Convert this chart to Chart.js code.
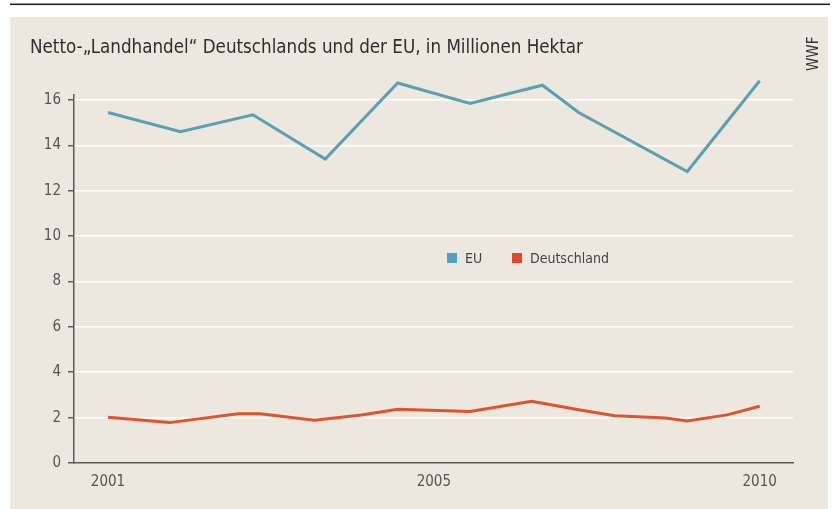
<!DOCTYPE html>
<html lang="de">
<head>
<meta charset="UTF-8">
<title>Netto-„Landhandel" Deutschlands und der EU</title>
<script src="https://cdn.jsdelivr.net/npm/chart.js"></script>
<style>
  html, body { margin:0; padding:0; background:#fff; }
  #wrap { position:relative; width:835px; height:509px; }
</style>
</head>
<body>
<div id="wrap"><canvas id="chart" width="835" height="509"></canvas></div>
<script>
/* ==== Daten ==== */
const titleText = 'Netto-„Landhandel“ Deutschlands und der EU, in Millionen Hektar';
const sourceText = 'WWF';

const euYears  = [2001, 2002, 2003, 2004, 2005, 2006, 2006.5, 2007, 2007.5, 2009, 2010];
const euValues = [15.45, 14.6, 15.35, 13.4, 16.75, 15.85, 16.25, 16.65, 15.45, 12.85, 16.85];

const deYears  = [2001, 2001.85, 2002.8, 2003.1, 2003.85, 2004.5, 2005, 2006, 2006.85, 2007.5, 2008, 2008.7, 2009, 2009.55, 2010];
const deValues = [2.02, 1.78, 2.17, 2.17, 1.88, 2.12, 2.37, 2.27, 2.72, 2.35, 2.08, 1.98, 1.85, 2.12, 2.5];

const xTickValues = [2001, 2005.5, 2010];
const xTickLabels = ['2001', '2005', '2010'];
const yTicks = [0, 2, 4, 6, 8, 10, 12, 14, 16];

const seriesLabels = ['EU', 'Deutschland'];
const lineColors   = ['#5c9fb4', '#e0532e'];
const legendColors = ['#4ca2c9', '#e2472a'];

const toPoints = (xs, ys) => xs.map((x, i) => ({x, y: ys[i]}));

const FONT = '"Liberation Sans Narrow", "DejaVu Sans Condensed", "Roboto", sans-serif';
const panelBg = '#ece8df';

/* ==== Hintergrund, Titel, Quelle, Legende ==== */
const decor = {
  id: 'decor',
  beforeDraw(chart){
    const c = chart.ctx;
    c.save();
    c.fillStyle = panelBg;
    c.fillRect(10, 17, 818, 492);
    c.fillStyle = '#222';
    c.fillRect(10, 3.5, 820, 1.6);
    c.restore();
  },
  afterDraw(chart){
    const c = chart.ctx;
    c.save();
    c.fillStyle = '#2e2e2e';
    c.font = '20px ' + FONT;
    c.textBaseline = 'alphabetic';
    // Titel etwas schmaler laufen lassen
    const w = c.measureText(titleText).width;
    c.translate(30, 53);
    c.scale(Math.min(1, 553 / w), 1);
    c.fillText(titleText, 0, 0);
    c.restore();

    c.save();
    c.translate(818, 71);
    c.rotate(-Math.PI/2);
    c.font = '15px ' + FONT;
    c.fillStyle = '#333';
    c.fillText(sourceText, 0, 0);
    c.restore();

    // Legende mitten im Diagramm
    c.save();
    c.font = '14px ' + FONT;
    c.textBaseline = 'middle';
    let x = 447;
    const y = 258;
    chart.data.datasets.forEach((ds, i) => {
      c.fillStyle = legendColors[i];
      c.fillRect(x, y - 5, 10, 10);
      c.fillStyle = '#444';
      c.fillText(ds.label, x + 18, y + 1);
      x += 65;
    });
    c.restore();
  }
};

new Chart(document.getElementById('chart'), {
  type: 'line',
  data: {
    datasets: [
      { label: seriesLabels[0], data: toPoints(euYears, euValues), borderColor: lineColors[0], borderWidth: 3, pointRadius: 0, tension: 0, clip: false },
      { label: seriesLabels[1], data: toPoints(deYears, deValues), borderColor: lineColors[1], borderWidth: 3, pointRadius: 0, tension: 0, clip: false }
    ]
  },
  options: {
    responsive: false,
    animation: false,
    layout: { padding: { left: 0, right: 42, top: 95, bottom: 0 } },
    plugins: { legend: { display: false }, tooltip: { enabled: false } },
    scales: {
      x: {
        type: 'linear',
        min: 2000.53,
        max: 2010.46,
        afterBuildTicks: s => { s.ticks = xTickValues.map(v => ({value: v})); },
        afterFit: s => { s.height = 46; },
        ticks: {
          autoSkip: false,
          maxRotation: 0,
          padding: 2,
          color: '#555',
          font: { family: FONT, size: 15 },
          callback: (v, i) => xTickLabels[i]
        },
        grid: { display: false },
        border: { color: '#5a5a5a', width: 1.5 }
      },
      y: {
        min: 0,
        max: 16.22,
        afterBuildTicks: s => { s.ticks = yTicks.map(v => ({value: v})); },
        afterFit: s => { s.width = 74; },
        ticks: {
          padding: 7,
          color: '#555',
          font: { family: FONT, size: 15 },
          callback: v => String(v)
        },
        grid: {
          color: ctx => ctx.tick && ctx.tick.value === 0 ? 'rgba(0,0,0,0)' : '#ffffff',
          lineWidth: 1.5,
          tickColor: '#5a5a5a',
          tickLength: 6,
          tickWidth: 1.5
        },
        border: { color: '#5a5a5a', width: 1.5 }
      }
    }
  },
  plugins: [decor]
});
</script>
</body>
</html>
